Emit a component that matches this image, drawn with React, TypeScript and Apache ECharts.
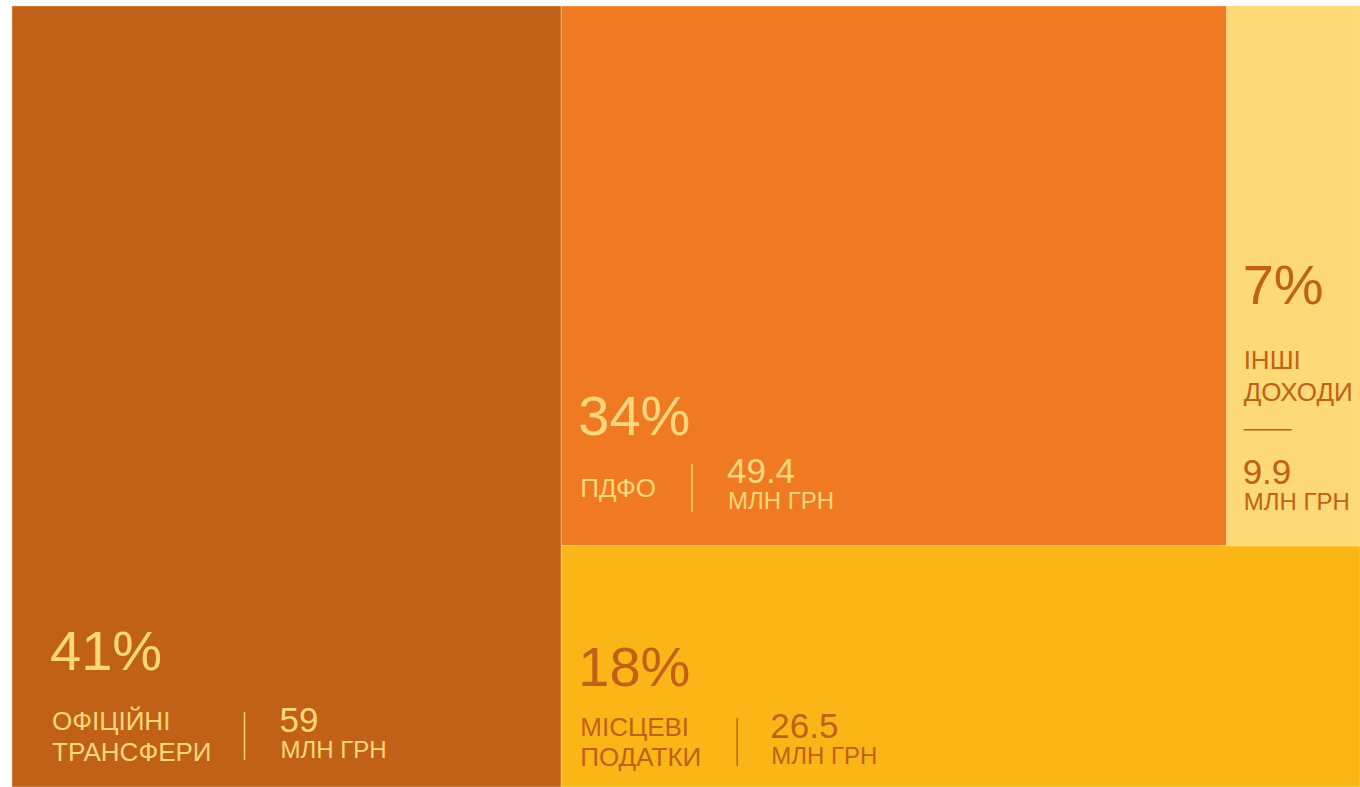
import React, { useEffect, useRef } from 'react';
import * as echarts from 'echarts';

// ---- data ----
const categories = ['ОФІЦІЙНІ ТРАНСФЕРИ', 'ПДФО', 'МІСЦЕВІ ПОДАТКИ', 'ІНШІ ДОХОДИ'];
const values = [59, 49.4, 26.5, 9.9];
const unitLabel = 'МЛН ГРН';
// treemap structure: a full-height column, then the remainder split into a top row and a bottom row
const leftColumn = [0];
const topRow = [1, 3];
const bottomRow = [2];

// ---- styles ----
const COLORS = ['#C06117', '#EF7A22', '#FAB616', '#FDD978'];
const TEXT_COLORS = ['#FDD87A', '#FDD87A', '#C06117', '#C06117'];
const FONT = '"Liberation Sans", Arial, sans-serif';
const PCT_SIZE = 56;
const NAME_SIZE = 26;
const NUM_SIZE = 35;
const UNIT_SIZE = 24;

type LabelStyle = {
  mode: 'row' | 'column';
  padX: number;
  rowY?: number;
  pctDy?: number;
  nameGap?: number;
  sepGap?: number;
  valGap?: number;
};
const LABEL_STYLES: LabelStyle[] = [
  { mode: 'row', padX: 40, rowY: -51, pctDy: -86, nameGap: 31, sepGap: 33, valGap: 36 },
  { mode: 'row', padX: 19, rowY: -58, pctDy: -72, nameGap: 31, sepGap: 36, valGap: 36 },
  { mode: 'row', padX: 19, rowY: -45, pctDy: -76, nameGap: 30, sepGap: 36, valGap: 34 },
  { mode: 'column', padX: 17 },
];

const sum = (a: number[]) => a.reduce((s, v) => s + v, 0);

function sliceLayout(): number[][] {
  const total = sum(values);
  const rects: number[][] = [];
  let x = 0;
  leftColumn.forEach((i) => {
    rects[i] = [x, x + values[i], 0, 1];
    x += values[i];
  });
  const rest = total - x;
  const topSum = sum(topRow.map((i) => values[i]));
  const botSum = sum(bottomRow.map((i) => values[i]));
  const topFrac = topSum / (topSum + botSum);
  let tx = x;
  topRow.forEach((i) => {
    const w = (values[i] / topSum) * rest;
    rects[i] = [tx, tx + w, 0, topFrac];
    tx += w;
  });
  let bx = x;
  bottomRow.forEach((i) => {
    const w = (values[i] / botSum) * rest;
    rects[i] = [bx, bx + w, topFrac, 1];
    bx += w;
  });
  return rects;
}

let measureCtx: CanvasRenderingContext2D | null = null;
function textWidth(t: string, size: number) {
  if (!measureCtx) measureCtx = document.createElement('canvas').getContext('2d');
  if (!measureCtx) return t.length * size * 0.6;
  measureCtx.font = `${size}px ${FONT}`;
  return measureCtx.measureText(t).width;
}

function txt(text: string, x: number, y: number, size: number, fill: string) {
  return {
    type: 'text',
    x,
    y,
    silent: true,
    style: {
      text,
      fill,
      fontSize: size,
      fontFamily: FONT,
      fontWeight: 'normal',
      align: 'left',
      verticalAlign: 'middle',
      textAlign: 'left',
      textVerticalAlign: 'middle',
    },
  };
}

export default function App() {
  const ref = useRef<HTMLDivElement>(null);

  useEffect(() => {
    document.body.style.margin = '0';
    if (!ref.current) return;
    const chart = echarts.init(ref.current, undefined, { renderer: 'svg' });
    const total = sum(values);
    const rects = sliceLayout();

    chart.setOption({
      animation: false,
      backgroundColor: '#ffffff',
      grid: { left: 12, top: 6, right: 0, bottom: 0 },
      xAxis: { type: 'value', min: 0, max: total, show: false },
      yAxis: { type: 'value', min: 0, max: 1, inverse: true, show: false },
      series: [
        {
          type: 'custom',
          coordinateSystem: 'cartesian2d',
          clip: false,
          silent: true,
          data: rects,
          renderItem: (params: any, api: any) => {
            const i = params.dataIndex;
            const p0 = api.coord([api.value(0), api.value(2)]);
            const p1 = api.coord([api.value(1), api.value(3)]);
            const x = Math.min(p0[0], p1[0]);
            const y = Math.min(p0[1], p1[1]);
            const w = Math.abs(p1[0] - p0[0]);
            const h = Math.abs(p1[1] - p0[1]);
            const bottom = y + h;
            const color = TEXT_COLORS[i];
            const ls = LABEL_STYLES[i];
            const pct = Math.round((values[i] / total) * 100) + '%';
            const nameLines = categories[i].split(' ');
            const children: any[] = [
              {
                type: 'rect',
                shape: { x, y, width: w, height: h },
                style: { fill: COLORS[i], stroke: 'rgba(255,220,150,0.45)', lineWidth: 1 },
              },
            ];
            const tx = x + ls.padX;
            if (ls.mode === 'row') {
              const rc = bottom + (ls.rowY as number);
              children.push(txt(pct, tx - 2, rc + (ls.pctDy as number), PCT_SIZE, color));
              const gap = ls.nameGap as number;
              const n = nameLines.length;
              let maxW = 0;
              nameLines.forEach((ln, k) => {
                const cy = rc + (k - (n - 1) / 2) * gap;
                children.push(txt(ln, tx, cy, NAME_SIZE, color));
                maxW = Math.max(maxW, textWidth(ln, NAME_SIZE));
              });
              const sx = tx + maxW + (ls.sepGap as number);
              children.push({
                type: 'line',
                shape: { x1: sx, y1: rc - 24, x2: sx, y2: rc + 24 },
                style: { stroke: color, lineWidth: 1.5 },
              });
              const vx = sx + (ls.valGap as number);
              children.push(txt(String(values[i]), vx - 1, rc - 17, NUM_SIZE, color));
              children.push(txt(unitLabel, vx, rc + 13, UNIT_SIZE, color));
            } else {
              children.push(txt(pct, tx - 1, bottom - 261, PCT_SIZE, color));
              nameLines.forEach((ln, k) => {
                children.push(txt(ln, tx, bottom - 186 + k * 32, NAME_SIZE, color));
              });
              children.push({
                type: 'line',
                shape: { x1: tx, y1: bottom - 116, x2: tx + 48, y2: bottom - 116 },
                style: { stroke: color, lineWidth: 1.5 },
              });
              children.push(txt(String(values[i]), tx - 1, bottom - 74, NUM_SIZE, color));
              children.push(txt(unitLabel, tx, bottom - 44, UNIT_SIZE, color));
            }
            return { type: 'group', children };
          },
        },
      ],
    });

    return () => chart.dispose();
  }, []);

  return <div ref={ref} style={{ width: 1360, height: 787 }} />;
}
